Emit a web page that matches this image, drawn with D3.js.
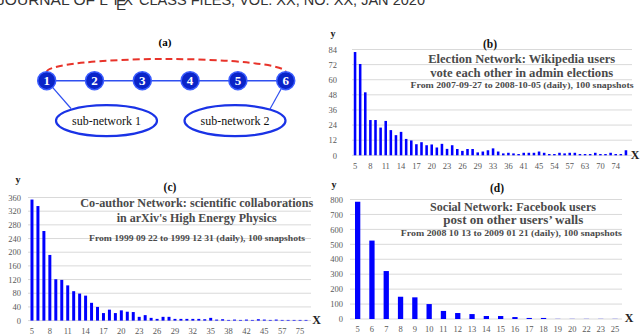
<!DOCTYPE html>
<html><head><meta charset="utf-8">
<script src="https://cdn.jsdelivr.net/npm/d3@7"></script>
<style>html,body{margin:0;padding:0;background:#fff;overflow:hidden}svg{display:block}</style>
</head><body>
<svg id="chart" width="640" height="334"></svg>
<script>
// ---------------- DATA ----------------
const headerParts = ["JOURNAL OF L", "A", "T", "E", "X", "CLASS FILES, VOL. XX, NO. XX, JAN 2020"];

const nodeLabels = ["1", "2", "3", "4", "5", "6"];
const subNetworks = ["sub-network 1", "sub-network 2"];

const catsB = [5,6,7,8,9,10,11,12,13,14,15,16,17,18,19,20,21,22,23,24,25,26,27,28,29,30,32,33,34,35,36,38,39,41,42,44,45,47,50,54,55,56,57,59,61,63,65,68,70,71,72,74,76,80];
const valsB = [82,72.5,50,28,28,22,27.3,20,16,18.6,13,11.8,8.8,10.4,8,8.6,6.2,9.1,5.1,8,5,3.5,5,5,2.3,3,4,5.5,3,1.5,2,1.5,1,2,2,2,3,2,1,1,2,1.5,2,2,1,1,1,2,1,1,2,1,1,4];
const ticksB = [0,12,24,36,48,60,72,84];
const titleB = ["(b)", "Election Network: Wikipedia users", "vote each other in admin elections", "From 2007-09-27 to 2008-10-05 (daily), 100 snapshots"];

const catsC = [5,6,7,8,9,10,11,12,13,14,15,16,17,18,19,20,21,22,23,24,25,26,27,28,29,30,31,32,33,34,35,36,37,38,40,41,42,43,44,45,48,52,57,60,66,75,80];
const valsC = [354,335,262,192,121,119,103,86,79,73,52,40,22,32,22,30,26,25,11,16,8,5,11,11,5,5,5,5,5,4,8,3,4,2,3,2,3,2,4,3,2,3,2,2,2,2,2];
const ticksC = [0,40,80,120,160,200,240,280,320,360];
const titleC = ["(c)", "Co-author Network:  scientific collaborations", "in arXiv's High Energy Physics", "From 1999 09 22 to 1999 12 31 (daily), 100 snapshots"];

const catsD = [5,6,7,8,9,10,11,12,13,14,15,16,17,18,19,20,22,23,25];
const valsD = [785,525,321,149,145,100,54,40,33,20,20,13,7,7,1,1,1,1,1];
const ticksD = [0,100,200,300,400,500,600,700,800];
const titleD = ["(d)", "Social Network: Facebook users", "post on other users\u2019 walls", "From 2008 10 13 to 2009 01 21 (daily), 100 snapshots"];

// ---------------- DRAW ----------------
const SERIF = "'Liberation Serif','DejaVu Serif',serif";
const SANS = "'Liberation Sans',Arial,sans-serif";
const svg = d3.select("#chart");

// header (cut off at top)
const hdr = svg.append("g").attr("fill", "#333").attr("font-family", SANS).attr("font-size", 15);
hdr.append("text").attr("x", -3).attr("y", 4.5).attr("textLength", 111).attr("lengthAdjust", "spacingAndGlyphs").text(headerParts[0]);
hdr.append("text").attr("x", 107).attr("y", -1).attr("font-size", 11).text(headerParts[1]);
hdr.append("text").attr("x", 111).attr("y", 4.5).text(headerParts[2]);
hdr.append("text").attr("x", 116).attr("y", 9.5).text(headerParts[3]);
hdr.append("text").attr("x", 123).attr("y", 4.5).text(headerParts[4]);
hdr.append("text").attr("x", 139).attr("y", 4.5).attr("textLength", 286).attr("lengthAdjust", "spacingAndGlyphs").text(headerParts[5]);

// ---- panel (a) ----
const ga = svg.append("g");
ga.append("text").attr("x", 165).attr("y", 46).attr("text-anchor", "middle")
  .attr("font-family", SERIF).attr("font-weight", "bold").attr("font-size", 11).text("(a)");
const xa = d3.scalePoint().domain(nodeLabels).range([46.7, 285.7]);
const nodeY = 80.7;
// red dashed arc
ga.append("path")
  .attr("d", `M${xa("1")},72 A119.5,13 0 0 1 ${xa("6")},72`)
  .attr("fill", "none").attr("stroke", "#e8332a").attr("stroke-width", 2).attr("stroke-dasharray", "7,4");
// chain edges
ga.append("line").attr("x1", xa("1")).attr("x2", xa("6")).attr("y1", nodeY).attr("y2", nodeY)
  .attr("stroke", "#2f4ff0").attr("stroke-width", 1.5);
// sub-networks
const subX = d3.scalePoint().domain(subNetworks).range([106.5, 235]);
const subY = 120.7;
ga.append("line").attr("x1", xa("1")).attr("y1", nodeY).attr("x2", 71).attr("y2", 108.5).attr("stroke", "#2f4ff0").attr("stroke-width", 1.2);
ga.append("line").attr("x1", xa("6")).attr("y1", nodeY).attr("x2", 270).attr("y2", 109).attr("stroke", "#2f4ff0").attr("stroke-width", 1.2);
ga.selectAll("ellipse.sub").data(subNetworks).join("ellipse").attr("class", "sub")
  .attr("cx", d => subX(d)).attr("cy", subY).attr("rx", 50.5).attr("ry", 15.5)
  .attr("fill", "#fff").attr("stroke", "#1a33e6").attr("stroke-width", 2.2);
ga.selectAll("text.sub").data(subNetworks).join("text").attr("class", "sub")
  .attr("x", d => subX(d)).attr("y", subY + 4).attr("text-anchor", "middle")
  .attr("font-family", SERIF).attr("font-size", 12).attr("fill", "#111").text(d => d);
// nodes
const nodes = ga.selectAll("g.node").data(nodeLabels).join("g").attr("class", "node")
  .attr("transform", d => `translate(${xa(d)},${nodeY})`);
nodes.append("circle").attr("r", 9).attr("fill", "#0a24c8").attr("stroke", "#3a5cff").attr("stroke-width", 1.5);
nodes.append("text").attr("y", 4.5).attr("text-anchor", "middle").attr("fill", "#fff")
  .attr("font-family", SERIF).attr("font-weight", "bold").attr("font-size", 13).text(d => d);

// ---- bar panels ----
function barPanel(cats, vals, yTicks, every, titles, L) {
  const g = svg.append("g");
  const x = d3.scaleBand().domain(cats).range([L.x0, L.x1]).paddingInner(L.pad).paddingOuter(L.pad / 2);
  const y = d3.scaleLinear().domain([0, yTicks[yTicks.length - 1]]).range([L.y0, L.y1]);
  // grid
  g.append("g").selectAll("line").data(yTicks).join("line")
    .attr("x1", L.gx0).attr("x2", L.gx1).attr("y1", d => y(d)).attr("y2", d => y(d))
    .attr("stroke", "#d9d9d9").attr("stroke-width", 1);
  // y axis
  const yAxis = d3.axisLeft(y).tickValues(yTicks).tickSize(0).tickPadding(0);
  const yg = g.append("g").attr("transform", `translate(${L.yLabX},0)`).call(yAxis);
  yg.select(".domain").remove();
  yg.selectAll("text").attr("font-family", SERIF).attr("font-size", 8.5).attr("fill", "#595959").attr("dy", "0.32em");
  // bars
  g.append("g").selectAll("rect").data(cats).join("rect")
    .attr("x", d => x(d)).attr("width", x.bandwidth())
    .attr("y", (d, i) => y(vals[i])).attr("height", (d, i) => y(0) - y(vals[i]))
    .attr("fill", "#0000ff");
  // x axis
  const xAxis = d3.axisBottom(x).tickValues(cats.filter((d, i) => i % every === 0)).tickSize(0).tickPadding(0);
  const xg = g.append("g").attr("transform", `translate(0,${L.xLabY})`).call(xAxis);
  xg.select(".domain").remove();
  xg.selectAll("text").attr("font-family", SERIF).attr("font-size", 8.5).attr("fill", "#595959").attr("dy", 0);
  // axis names
  g.append("text").attr("x", L.yNameX).attr("y", L.yNameY).attr("text-anchor", "middle")
    .attr("font-family", SERIF).attr("font-weight", "bold").attr("font-size", 10).attr("fill", "#222").text("y");
  g.append("text").attr("x", L.xNameX).attr("y", L.xNameY).attr("text-anchor", "middle")
    .attr("font-family", SERIF).attr("font-weight", "bold").attr("font-size", 12).attr("fill", "#222").text("X");
  // titles
  g.append("text").attr("x", L.tag[0]).attr("y", L.tag[1]).attr("text-anchor", "middle")
    .attr("font-family", SERIF).attr("font-weight", "bold").attr("font-size", 11.5).attr("fill", "#111").text(titles[0]);
  L.lines.forEach((ln, i) => {
    g.append("text").attr("x", ln[0]).attr("y", ln[1]).attr("text-anchor", "middle")
      .attr("font-family", SERIF).attr("font-weight", "bold").attr("font-size", ln[3]).attr("fill", "#4a4a4a")
      .attr("textLength", ln[2]).attr("lengthAdjust", "spacingAndGlyphs").text(titles[i + 1]);
  });
}

barPanel(catsB, valsB, ticksB, 3, titleB, {
  x0: 352.5, x1: 628.5, pad: 0.5, y0: 155.3, y1: 49.5, gx0: 352, gx1: 632,
  yLabX: 337, xLabY: 169, yNameX: 333, yNameY: 37, xNameX: 635, xNameY: 159,
  tag: [490, 48],
  lines: [[521.7, 63, 187, 12], [521.7, 77, 183, 12], [522, 87.5, 223, 8]]
});
barPanel(catsC, valsC, ticksC, 3, titleC, {
  x0: 29, x1: 309, pad: 0.5, y0: 320.6, y1: 197.5, gx0: 28, gx1: 311,
  yLabX: 21, xLabY: 334, yNameX: 18, yNameY: 183, xNameX: 316.7, xNameY: 324,
  tag: [170, 190.5],
  lines: [[196.7, 207, 233, 12], [196.7, 221.5, 160, 12], [197, 241, 216, 9]]
});
barPanel(catsD, valsD, ticksD, 1, titleD, {
  x0: 350.5, x1: 622.2, pad: 0.63, y0: 319, y1: 199.5, gx0: 350, gx1: 622,
  yLabX: 343, xLabY: 332, yNameX: 334, yNameY: 188, xNameX: 629, xNameY: 322,
  tag: [497, 192],
  lines: [[513, 210.5, 166, 12], [513.3, 223.5, 140, 12], [511.3, 235.5, 221, 8.5]]
});
</script>
</body></html>
